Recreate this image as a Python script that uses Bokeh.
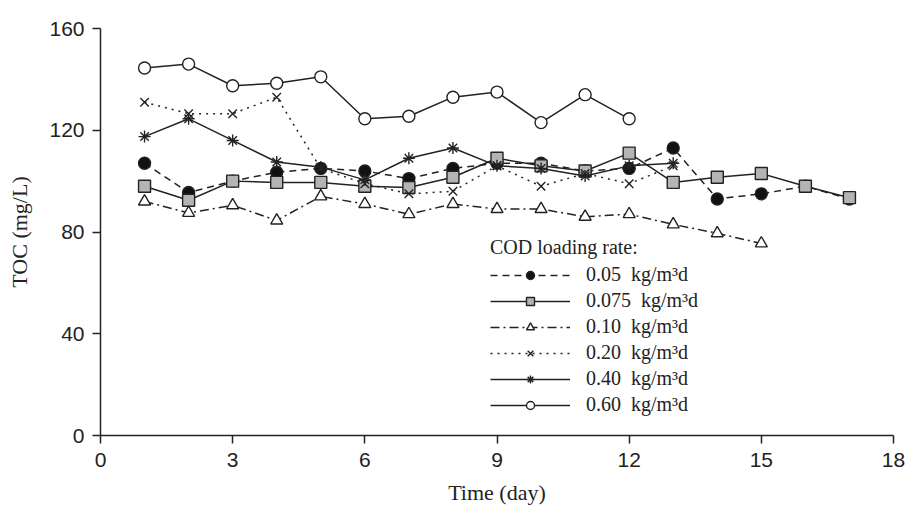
from bokeh.plotting import figure
from bokeh.models import Range1d, FixedTicker, Legend
from bokeh.embed import file_html
from bokeh.resources import INLINE

# TOC over time for each COD loading rate
days_005 = list(range(1, 18))
toc_005 = [107, 95.5, 100, 103.5, 105, 104, 101, 105, 107, 107, 104, 105, 113, 93, 95, 98, 93]

days_0075 = list(range(1, 18))
toc_0075 = [98, 92.5, 100, 99.5, 99.5, 98, 97.5, 101.5, 109, 106, 104, 111, 99.5, 101.5, 103, 98, 93.5]

days_010 = list(range(1, 16))
toc_010 = [92, 87.5, 90.5, 84.5, 94, 91, 87, 91, 89, 89, 86, 87, 83, 79.5, 75.5]

days_020 = list(range(1, 14))
toc_020 = [131, 126.5, 126.5, 133, 105, 99, 95, 96, 106, 98, 103, 99, 106]

days_040 = list(range(1, 14))
toc_040 = [117.5, 124.5, 116, 107.5, 105.5, 100.5, 109, 113, 106, 105, 102, 106, 107]

days_060 = list(range(1, 13))
toc_060 = [144.5, 146, 137.5, 138.5, 141, 124.5, 125.5, 133, 135, 123, 134, 124.5]

x_ticks = [0, 3, 6, 9, 12, 15, 18]
y_ticks = [0, 40, 80, 120, 160]

SANS = "'Liberation Sans Narrow', 'Liberation Sans', sans-serif"
SERIF = "'Liberation Serif', serif"

p = figure(width=905, height=519, output_backend="svg", toolbar_location=None,
           x_range=Range1d(0, 18), y_range=Range1d(0, 160),
           min_border_left=100, min_border_right=12,
           min_border_top=28, min_border_bottom=84)
p.outline_line_color = None
p.xgrid.grid_line_color = None
p.ygrid.grid_line_color = None
p.background_fill_color = "white"
p.border_fill_color = "white"

for ax in (p.xaxis[0], p.yaxis[0]):
    ax.axis_line_color = "#222222"
    ax.axis_line_width = 1.5
    ax.major_tick_line_color = "#222222"
    ax.major_tick_line_width = 1.5
    ax.major_tick_out = 8
    ax.major_tick_in = 0
    ax.minor_tick_line_color = None
    ax.major_label_text_font = SANS
    ax.major_label_text_font_size = "21px"
    ax.major_label_text_color = "#222222"
    ax.axis_label_text_font_style = "normal"
    ax.axis_label_text_color = "#222222"

p.xaxis.ticker = FixedTicker(ticks=x_ticks)
p.yaxis.ticker = FixedTicker(ticks=y_ticks)
p.xaxis.axis_label = "Time (day)"
p.xaxis.axis_label_text_font = SERIF
p.xaxis.axis_label_text_font_size = "22px"
p.xaxis.axis_label_standoff = 10
p.xaxis.major_label_standoff = 9
p.yaxis.axis_label = "TOC (mg/L)"
p.yaxis.axis_label_text_font = SERIF
p.yaxis.axis_label_text_font_size = "22px"
p.yaxis.axis_label_standoff = 14
p.yaxis.major_label_standoff = 8

items = []

def series(days, toc, dash, marker, fill, label, size=12):
    ln = p.line(days, toc, line_color="#222222", line_width=1.5, line_dash=dash)
    mk = p.scatter(days, toc, marker=marker, size=size, line_color="#222222",
                   line_width=1.4, fill_color=fill)
    items.append((label, [ln, mk]))

series(days_005, toc_005, "7 5", "circle", "#111111", "0.05  kg/m³d")
series(days_0075, toc_0075, "solid", "square", "#b4b4b4", "0.075  kg/m³d")
series(days_010, toc_010, "9 4 2 4", "triangle", "white", "0.10  kg/m³d")
series(days_020, toc_020, "2 5", "x", None, "0.20  kg/m³d")
series(days_040, toc_040, "solid", "asterisk", None, "0.40  kg/m³d")
series(days_060, toc_060, "solid", "circle", "white", "0.60  kg/m³d")

legend = Legend(items=items, location=(390, 19), orientation="vertical",
                title="COD loading rate:",
                title_text_font=SERIF, title_text_font_size="20px",
                title_text_font_style="normal", title_text_color="#222222",
                title_standoff=4,
                label_text_font=SERIF, label_text_font_size="20px",
                label_text_color="#222222",
                glyph_width=80, glyph_height=20, label_height=20,
                label_standoff=16, spacing=3, padding=0, margin=0,
                border_line_color=None, background_fill_alpha=0)
p.add_layout(legend, "center")

open("out.html", "w").write(file_html(p, INLINE))
